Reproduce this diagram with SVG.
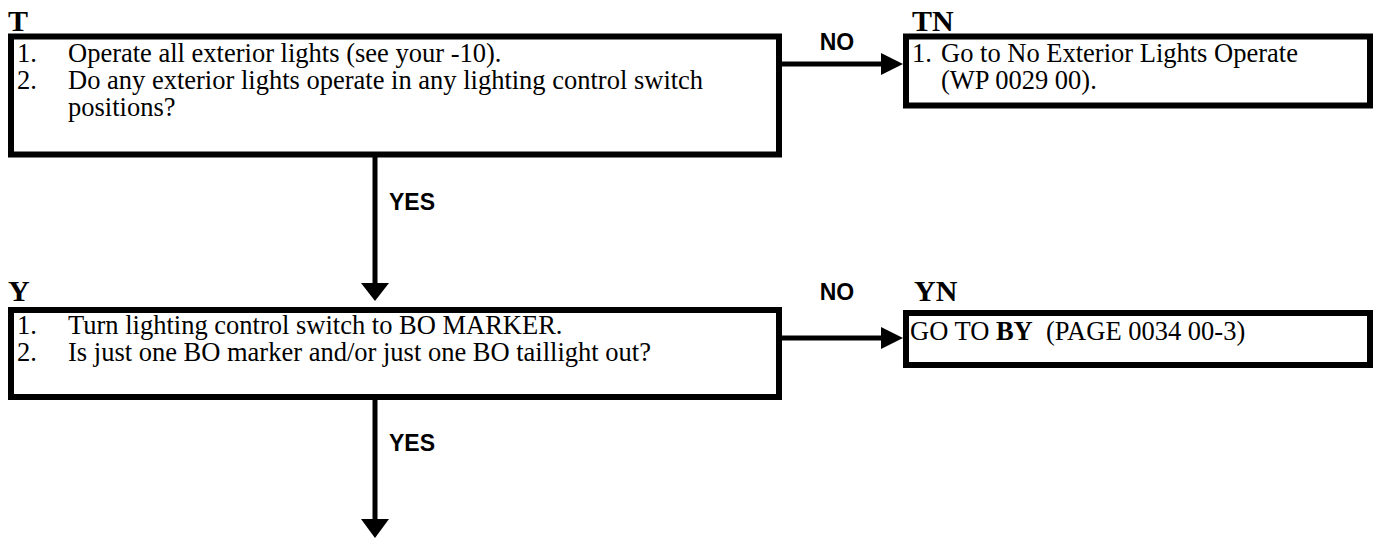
<svg xmlns="http://www.w3.org/2000/svg" width="1378" height="540" viewBox="0 0 1378 540">
<style>
.box{fill:#fff;stroke:#000;stroke-width:6}
.t{font-family:"Liberation Serif","Times New Roman",serif;font-size:26.5px;fill:#000}
.lbl{font-family:"Liberation Serif","Times New Roman",serif;font-size:30px;font-weight:bold;fill:#000}
.cl{font-family:"Liberation Sans",Arial,sans-serif;font-size:23px;font-weight:bold;fill:#000}
.ln{stroke:#000;stroke-width:5;fill:none}
.ah{fill:#000}
</style>
<rect width="1378" height="540" fill="#fff"/>
<g id="connectors">
<line class="ln" x1="375" y1="157" x2="375" y2="285"/>
<polygon class="ah" points="361,283 389,283 375,301"/>
<text class="cl" x="389" y="210">YES</text>
<line class="ln" x1="375" y1="400" x2="375" y2="522"/>
<polygon class="ah" points="361,519 389,519 375,538"/>
<text class="cl" x="389" y="451">YES</text>
<line class="ln" x1="782" y1="64" x2="884" y2="64"/>
<polygon class="ah" points="881,53 881,75 903,64"/>
<text class="cl" x="837" y="50" text-anchor="middle">NO</text>
<line class="ln" x1="782" y1="338" x2="884" y2="338"/>
<polygon class="ah" points="881,327 881,349 903,338"/>
<text class="cl" x="837" y="300" text-anchor="middle">NO</text>
</g>
<g id="node-T">
<text class="lbl" x="8" y="31">T</text>
<rect class="box" x="11" y="36.5" width="768" height="118"/>
<text class="t" x="17" y="62">1.</text>
<text class="t" x="68" y="62">Operate all exterior lights (see your -10).</text>
<text class="t" x="17" y="89">2.</text>
<text class="t" x="68" y="89">Do any exterior lights operate in any lighting control switch</text>
<text class="t" x="68" y="116">positions?</text>
</g>
<g id="node-TN">
<text class="lbl" x="912" y="31">TN</text>
<rect class="box" x="906" y="36.5" width="464" height="69"/>
<text class="t" x="912" y="62">1.</text>
<text class="t" x="941" y="62">Go to No Exterior Lights Operate</text>
<text class="t" x="941" y="89">(WP 0029 00).</text>
</g>
<g id="node-Y">
<text class="lbl" x="8" y="301">Y</text>
<rect class="box" x="11" y="310" width="768" height="87"/>
<text class="t" x="17" y="334">1.</text>
<text class="t" x="68" y="334">Turn lighting control switch to BO MARKER.</text>
<text class="t" x="17" y="361">2.</text>
<text class="t" x="68" y="361">Is just one BO marker and/or just one BO taillight out?</text>
</g>
<g id="node-YN">
<text class="lbl" x="914" y="301">YN</text>
<rect class="box" x="906" y="313" width="464" height="52"/>
<text class="t" x="910" y="340" xml:space="preserve">GO TO <tspan font-weight="bold">BY</tspan>  (PAGE 0034 00-3)</text>
</g>
</svg>
